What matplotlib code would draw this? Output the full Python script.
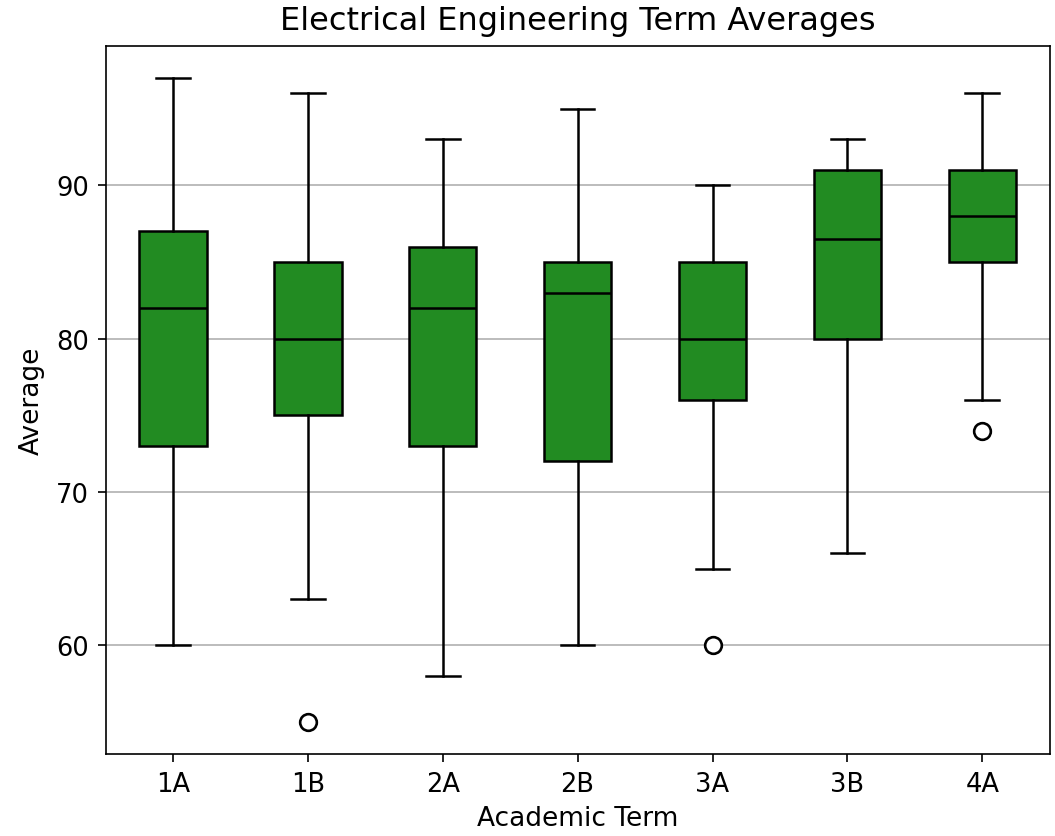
import matplotlib
matplotlib.use("Agg")
import matplotlib.pyplot as plt

# Term box stats
terms = ['1A', '1B', '2A', '2B', '3A', '3B', '4A']
whislo = [60, 63, 58, 60, 65, 66, 76]
q1 = [73, 75, 73, 72, 76, 80, 85]
med = [82, 80, 82, 83, 80, 86.5, 88]
q3 = [87, 85, 86, 85, 85, 91, 91]
whishi = [97, 96, 93, 95, 90, 93, 96]
fliers = [[], [55], [], [], [60], [], [74]]

stats = []
for i in range(len(terms)):
    stats.append({
        'label': terms[i],
        'whislo': whislo[i],
        'q1': q1[i],
        'med': med[i],
        'q3': q3[i],
        'whishi': whishi[i],
        'fliers': fliers[i],
    })

fig, ax = plt.subplots(figsize=(10.55, 8.37), dpi=100)

line = dict(color='black', linewidth=1.8)
ax.bxp(stats, widths=0.5, patch_artist=True,
       boxprops=dict(facecolor='forestgreen', edgecolor='black', linewidth=1.8),
       medianprops=line, whiskerprops=line, capprops=line,
       flierprops=dict(marker='o', markerfacecolor='white', markeredgecolor='black',
                       markersize=12, markeredgewidth=1.9))

ax.yaxis.grid(True, color='#b0b0b0', linewidth=1.2)
ax.set_axisbelow(True)
ax.set_yticks([60, 70, 80, 90])

ax.set_title("Electrical Engineering Term Averages", fontsize=23, pad=12)
ax.set_xlabel("Academic Term", fontsize=19, labelpad=6)
ax.set_ylabel("Average", fontsize=19, labelpad=8)
ax.tick_params(labelsize=18.5, width=1.2, length=6, pad=6)
for s in ax.spines.values():
    s.set_linewidth(1.2)

plt.subplots_adjust(left=0.1, right=0.995, top=0.944, bottom=0.098)
plt.savefig("out.png")
